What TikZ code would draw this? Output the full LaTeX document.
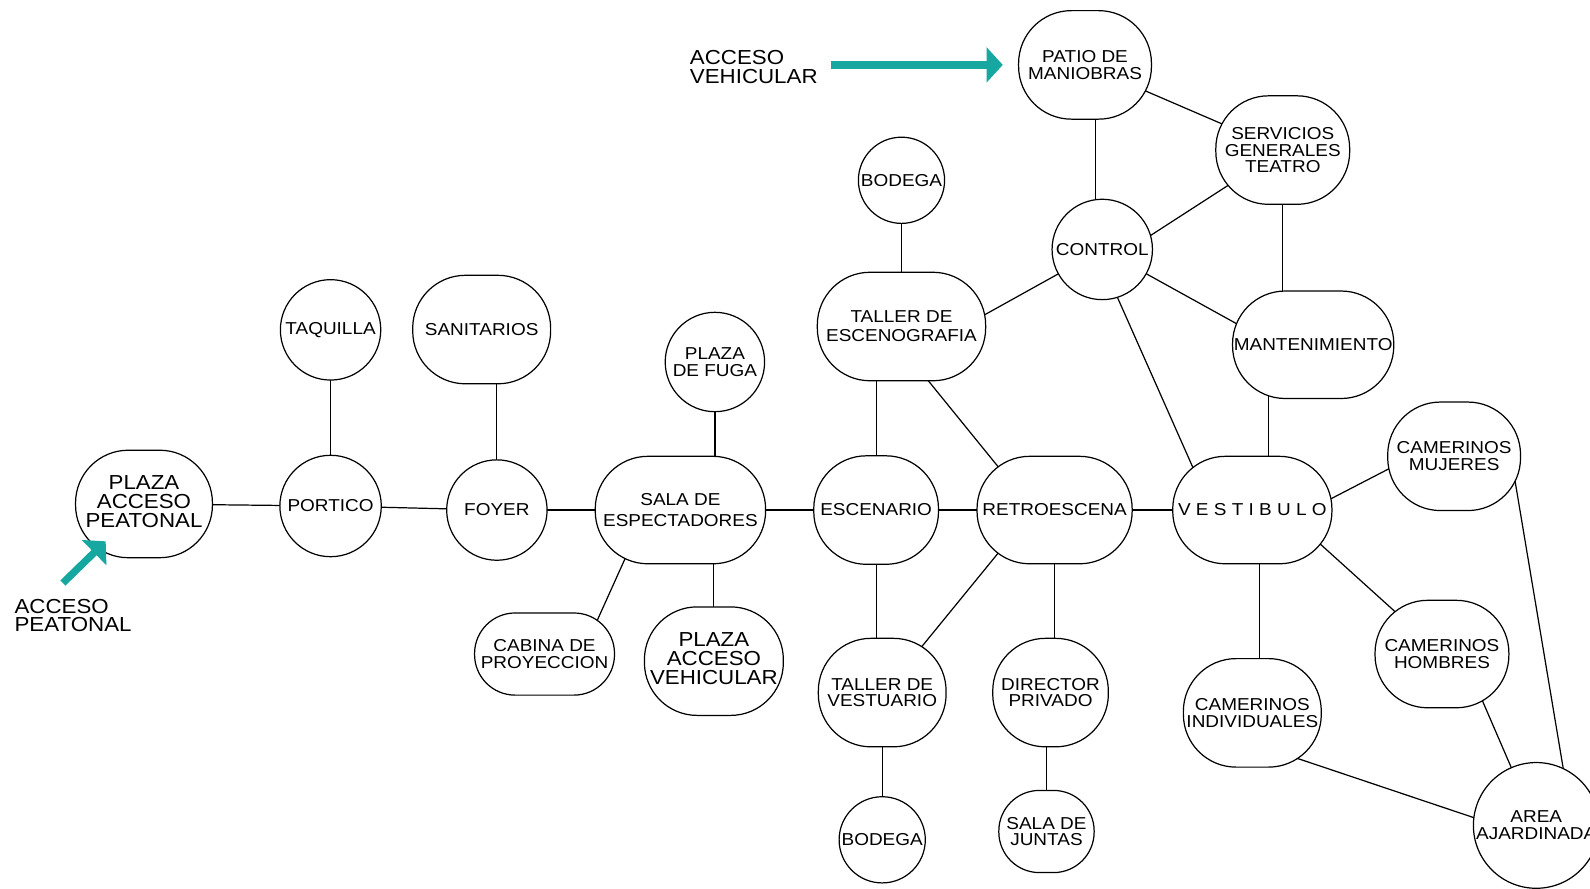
\documentclass[tikz,border=0pt]{standalone}
\usepackage{fontspec}
\setmainfont{Liberation Sans}[FakeStretch=1.1]
\usepackage{tikz}
\usetikzlibrary{positioning,calc}
\usetikzlibrary{backgrounds}
\usetikzlibrary{arrows.meta}
\definecolor{acceso}{RGB}{22,168,160}

\begin{document}
\begin{tikzpicture}[
  x = 0.5pt,
  y = -0.5pt,
  local/.style = {
    draw,
    rectangle,
    rounded corners = 26pt,
    fill = white,
    line width = 0.6pt,
    inner sep = 0pt,
    align = center,
    minimum width = 66pt,
    minimum height = 53.5pt,
    font = \fontsize{8.5}{8.3}\selectfont,
  },
  chico/.style = {
    local,
    rounded corners = 20pt,
    minimum height = 40.5pt,
  },
  circ/.style = {
    local,
    circle,
    minimum size = 49.5pt,
  },
  grande/.style = {
    font = \fontsize{10}{9.5}\selectfont,
  },
  rotulo/.style = {
    anchor = west,
    align = left,
    inner sep = 0pt,
    font = \fontsize{10}{9}\selectfont,
  },
  link/.style = {
    draw,
    line width = 0.6pt,
  },
  flecha/.style = {
    draw = acceso,
    line width = 3.6pt,
    -{Triangle[length=8pt,width=17pt]},
  },
]

  \useasboundingbox (0,0) rectangle (1568,876);

  % acceso peatonal
  \node[local,grande,minimum width=67.5pt,minimum height=53pt,text depth=2.5pt] (plazap) at (142,497) {PLAZA\\ACCESO\\PEATONAL};
  \node[circ,minimum size=50pt] (portico) at (326,499) {PORTICO};
  \node[circ] (taquilla) [above=36.5pt of portico] {TAQUILLA};
  \node[circ] (foyer) at (490,503) {FOYER};
  \node[local,minimum width=68pt] (sanit) at (475,325) {SANITARIOS};

  % sala
  \node[local,minimum width=84pt,minimum height=53pt] (sala) at (671,503) {SALA DE\\[2.5pt]ESPECTADORES};
  \node[circ,minimum size=49pt] (fuga) at (705,357) {PLAZA\\DE FUGA};
  \node[chico,minimum width=69pt] (cabina) at (537,645) {CABINA DE\\PROYECCION};
  \node[local,grande,minimum width=68.5pt,text depth=2.5pt] (pav) at (704,652) {PLAZA\\ACCESO\\VEHICULAR};

  % escenario
  \node[local,minimum width=61.5pt] (esc) at (864,503) {ESCENARIO};
  \node[local,minimum width=83pt] (tesc) at (889,322) {TALLER DE\\[1pt]ESCENOGRAFIA};
  \node[circ,minimum size=42.5pt] (bod1) [above=23.5pt of tesc] {BODEGA};
  \node[local,minimum width=76.5pt,minimum height=53pt] (retro) at (1040,503) {RETROESCENA};
  \node[local,minimum width=63pt] (tvest) at (870,683) {TALLER DE\\VESTUARIO};
  \node[circ,minimum size=42.5pt] (bod2) [below=24pt of tvest] {BODEGA};
  \node[local,minimum width=57pt] (dir) at (1036,683) {DIRECTOR\\PRIVADO};
  \node[chico,minimum width=47pt] (juntas) at (1032,820) {SALA DE\\JUNTAS};

  % servicios
  \node[local,minimum width=65.5pt] (patio) at (1070,64) {PATIO DE\\MANIOBRAS};
  \node[local] (serv) at (1265,148) {SERVICIOS\\GENERALES\\TEATRO};
  \node[circ] (control) at (1087,246) {CONTROL};
  \node[local,minimum width=79.5pt,minimum height=53pt] (mant) at (1295,340) {MANTENIMIENTO};

  % camerinos
  \node[local,minimum width=78.5pt,minimum height=53pt] (vest) at (1235,503) {V E S T I B U L O};
  \node[local,minimum width=65.5pt] (cmuj) at (1434,450) {CAMERINOS\\MUJERES};
  \node[local,minimum height=53pt] (chom) at (1422,645) {CAMERINOS\\HOMBRES};
  \node[local,minimum width=68pt] (cind) at (1235,703) {CAMERINOS\\INDIVIDUALES};
  \node[circ,minimum size=62pt] (area) at (1515,814) {AREA\\AJARDINADA};

  % accesos
  \node[rotulo] (accveh) at (680,66) {ACCESO\\VEHICULAR};
  \node[rotulo] (accpeat) at (14,607) {ACCESO\\PEATONAL};
  \coordinate (peattail) at (62,575);

  \draw[flecha,shorten <=6.5pt,shorten >=7.5pt] (accveh.east |- patio.west) -- (patio.west);
  \draw[flecha,shorten >=-12pt] (peattail) -- (plazap);

  \begin{scope}[on background layer]
    \path[link] (plazap.center) -- (portico.center);
    \path[link] (portico.center) -- (taquilla.center);
    \path[link] (portico.center) -- (foyer.center);
    \path[link] (foyer.center) -- (foyer.center |- sanit.center);
    \path[link] (foyer.center) -- (sala.center);
    \path[link] (fuga.center) -- (fuga.center |- sala.center);
    \path[link] (pav.center) -- (pav.center |- sala.center);
    \path[link] ($(sala.center)+(-33,0)$) -- ($(cabina.center)+(37,0)$);
    \path[link] (sala.center) -- (esc.center);
    \path[link] (esc.center) -- (esc.center |- tesc.center);
    \path[link] (esc.center) -- (esc.center |- tvest.center);
    \path[link] (esc.center) -- (retro.center);
    \path[link] (tesc.center) -- (bod1.center);
    \path[link] ($(tesc.center)+(-17,0)$) -- ($(retro.center)+(-21,0)$);
    \path[link] ($(tesc.center)+(0,34)$) -- (control.center);
    \path[link] ($(retro.center)+(-21,0)$) -- ($(tvest.center)+(2,0)$);
    \path[link] (retro.center) -- (retro.center |- dir.center);
    \path[link] (juntas.center) -- (juntas.center |- dir.center);
    \path[link] (retro.center) -- (vest.center);
    \path[link] (tvest.center) -- (bod2.center);
    \path[link] ($(patio.center)+(10,0)$) -- ($(patio.center |- control.center)+(10,0)$);
    \path[link] (patio.center) -- (serv.center);
    \path[link] ($(control.center)+(0,17)$) -- (serv.center);
    \path[link] (serv.center) -- (serv.center |- mant.center);
    \path[link] (control.center) -- ($(mant.center)+(0,21)$);
    \path[link] ($(control.center)+(-6,0)$) -- ($(vest.center)+(-40,0)$);
    \path[link] ($(vest.center)+(16,0)$) -- ($(vest.center |- mant.center)+(16,0)$);
    \path[link] ($(vest.center)+(0,29)$) -- ($(cmuj.center)+(0,-21)$);
    \path[link] ($(vest.center)+(0,-27)$) -- (chom.center);
    \path[link] ($(vest.center)+(7,0)$) -- ($(vest.center |- cind.center)+(7,0)$);
    \path[link] ($(cmuj.center)+(56,0)$) -- ($(area.center)+(36,0)$);
    \path[link] ($(chom.center)+(20,0)$) -- (area.center);
    \path[link] ($(cind.center)+(0,30)$) -- ($(area.center)+(0,13)$);
  \end{scope}

\end{tikzpicture}
\end{document}
